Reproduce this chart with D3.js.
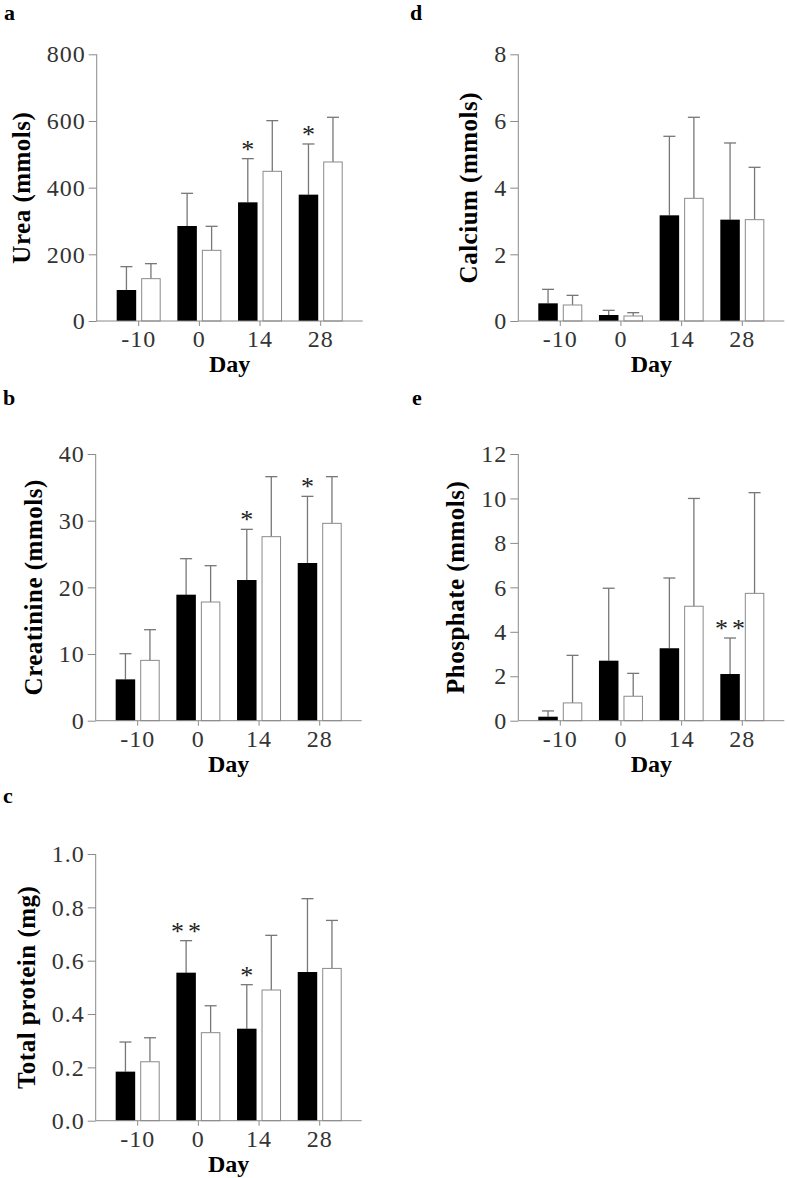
<!DOCTYPE html>
<html><head><meta charset="utf-8">
<script src="https://cdn.jsdelivr.net/npm/d3@7"></script>
<style>
html,body{margin:0;padding:0;background:#fff;}
svg{display:block;}
</style></head>
<body>
<svg id="chart" width="787" height="1178"></svg>
<script>
// ---- data ----
const days = ["-10", "0", "14", "28"];
const groups = ["black", "white"];

const ureaBlack = [93, 285, 356, 379];
const ureaBlackSD = [70, 98, 131, 152];
const ureaWhite = [127, 212, 449, 477];
const ureaWhiteSD = [45, 72, 152, 134];
const ureaStars = ["", "", "*", "*"];
const ureaTicks = [0, 200, 400, 600, 800];

const creatBlack = [6.2, 18.9, 21.1, 23.65];
const creatBlackSD = [3.85, 5.4, 7.6, 10.0];
const creatWhite = [9.05, 17.8, 27.6, 29.6];
const creatWhiteSD = [4.6, 5.45, 9.0, 7.0];
const creatStars = ["", "", "*", "*"];
const creatTicks = [0, 10, 20, 30, 40];

const protBlack = [0.184, 0.555, 0.345, 0.5575];
const protBlackSD = [0.111, 0.12, 0.165, 0.275];
const protWhite = [0.221, 0.33, 0.49, 0.571];
const protWhiteSD = [0.09, 0.101, 0.205, 0.18];
const protStars = ["", "**", "*", ""];
const protTicks = [0.0, 0.2, 0.4, 0.6, 0.8, 1.0];

const calcBlack = [0.53, 0.18, 3.17, 3.04];
const calcBlackSD = [0.42, 0.14, 2.37, 2.30];
const calcWhite = [0.48, 0.15, 3.68, 3.04];
const calcWhiteSD = [0.29, 0.10, 2.43, 1.57];
const calcStars = ["", "", "", ""];
const calcTicks = [0, 2, 4, 6, 8];

const phosBlack = [0.18, 2.7, 3.26, 2.1];
const phosBlackSD = [0.26, 3.26, 3.16, 1.62];
const phosWhite = [0.80, 1.1, 5.15, 5.73];
const phosWhiteSD = [2.14, 1.03, 4.85, 4.53];
const phosStars = ["", "", "", "**"];
const phosTicks = [0, 2, 4, 6, 8, 10, 12];

const panels = [
  {letter: "a", title: "Urea (mmols)", black: ureaBlack, blackSD: ureaBlackSD, white: ureaWhite, whiteSD: ureaWhiteSD, stars: ureaStars, ticks: ureaTicks, fmt: d3.format("d"), ox: 96.7, oy: 321, top: 54.3, lx: 4, ly: 20},
  {letter: "b", title: "Creatinine (mmols)", black: creatBlack, blackSD: creatBlackSD, white: creatWhite, whiteSD: creatWhiteSD, stars: creatStars, ticks: creatTicks, fmt: d3.format("d"), ox: 95.7, oy: 720.7, top: 454, lx: 3, ly: 405},
  {letter: "c", title: "Total protein (mg)", black: protBlack, blackSD: protBlackSD, white: protWhite, whiteSD: protWhiteSD, stars: protStars, ticks: protTicks, fmt: d3.format(".1f"), ox: 95.7, oy: 1120.7, top: 854, lx: 3, ly: 803},
  {letter: "d", title: "Calcium (mmols)", black: calcBlack, blackSD: calcBlackSD, white: calcWhite, whiteSD: calcWhiteSD, stars: calcStars, ticks: calcTicks, fmt: d3.format("d"), ox: 518.3, oy: 321, top: 54.3, lx: 410, ly: 20},
  {letter: "e", title: "Phosphate (mmols)", black: phosBlack, blackSD: phosBlackSD, white: phosWhite, whiteSD: phosWhiteSD, stars: phosStars, ticks: phosTicks, fmt: d3.format("d"), ox: 518.3, oy: 720.7, top: 454, lx: 412, ly: 405}
];

const svg = d3.select("#chart");
const FONT = "'Liberation Serif', 'Times New Roman', Times, serif";
const AXIS = "#8a8a8a";
const ERR = "#777";
const PLOT_W = 266;

panels.forEach(p => {
  const g = svg.append("g").attr("transform", `translate(${p.ox},${p.oy})`);
  const H = p.oy - p.top;
  const y = d3.scaleLinear().domain([p.ticks[0], p.ticks[p.ticks.length - 1]]).range([0, -H]);
  const x = d3.scaleBand().domain(days).range([0, PLOT_W]).paddingInner(0).paddingOuter(0.192);
  const xs = d3.scaleBand().domain(groups).range([-22, 22]).paddingInner(0.204).paddingOuter(0);

  // panel letter
  svg.append("text").attr("x", p.lx).attr("y", p.ly)
    .attr("font-family", FONT).attr("font-weight", "bold").attr("font-size", 22)
    .attr("fill", "#000").text(p.letter);

  const rows = days.map((d, i) => ({day: d, i}));
  groups.forEach(grp => {
    const vals = grp === "black" ? p.black : p.white;
    const sds = grp === "black" ? p.blackSD : p.whiteSD;
    const gg = g.append("g");
    rows.forEach(r => {
      const cx = x(r.day) + x.bandwidth() / 2 + xs(grp) + xs.bandwidth() / 2;
      const top = y(vals[r.i] + sds[r.i]);
      gg.append("line").attr("x1", cx).attr("x2", cx).attr("y1", y(vals[r.i])).attr("y2", top)
        .attr("stroke", ERR).attr("stroke-width", 1.3);
      gg.append("line").attr("x1", cx - 6).attr("x2", cx + 6).attr("y1", top).attr("y2", top)
        .attr("stroke", ERR).attr("stroke-width", 1.3);
    });
    gg.selectAll("rect").data(rows).join("rect")
      .attr("x", r => x(r.day) + x.bandwidth() / 2 + xs(grp) + (grp === "white" ? 0.5 : 0))
      .attr("y", r => y(vals[r.i]))
      .attr("width", xs.bandwidth() - (grp === "white" ? 1 : 0))
      .attr("height", r => -y(vals[r.i]))
      .attr("fill", grp === "black" ? "#000" : "#fff")
      .attr("stroke", grp === "black" ? "none" : AXIS)
      .attr("stroke-width", 1);
  });

  // stars
  rows.forEach(r => {
    if (!p.stars[r.i]) return;
    const cx = x(r.day) + x.bandwidth() / 2 + xs("black") + xs.bandwidth() / 2;
    const top = y(p.black[r.i] + p.blackSD[r.i]);
    const multi = p.stars[r.i].length > 1;
    g.append("text").attr("x", cx + (multi ? 2 : 0)).attr("y", top - 1)
      .attr("text-anchor", "middle").attr("font-family", FONT).attr("font-size", 26)
      .attr("letter-spacing", multi ? 4 : 0)
      .attr("fill", "#222").text(p.stars[r.i]);
  });

  // y axis
  const yAxis = g.append("g").call(d3.axisLeft(y).tickValues(p.ticks).tickFormat(p.fmt).tickSize(8).tickPadding(3));
  yAxis.select(".domain").attr("stroke", AXIS).attr("d", `M0,0V${-H}`);
  yAxis.selectAll(".tick line").attr("stroke", AXIS);
  yAxis.selectAll(".tick text").attr("font-family", FONT).attr("font-size", 24)
    .attr("letter-spacing", 1).attr("fill", "#333");

  // x axis
  const xAxis = g.append("g").call(d3.axisBottom(x).tickSize(5).tickPadding(8));
  xAxis.select(".domain").attr("stroke", AXIS).attr("d", `M0,0H${PLOT_W}`);
  xAxis.selectAll(".tick line").attr("stroke", AXIS);
  xAxis.selectAll(".tick text").attr("font-family", FONT).attr("font-size", 24)
    .attr("letter-spacing", 1).attr("fill", "#333").attr("y", 26).attr("dy", 0);

  // x title
  g.append("text").attr("x", PLOT_W / 2).attr("y", 51)
    .attr("text-anchor", "middle").attr("font-family", FONT).attr("font-weight", "bold")
    .attr("font-size", 24).attr("fill", "#000").text("Day");

  // y title placed relative to tick labels
  let minX = 0;
  yAxis.selectAll(".tick text").each(function () {
    const b = this.getBBox();
    minX = Math.min(minX, b.x);
  });
  g.append("text").attr("transform", `translate(${minX - 17},${-H / 2}) rotate(-90)`)
    .attr("text-anchor", "middle").attr("font-family", FONT).attr("font-weight", "bold")
    .attr("font-size", 25).attr("letter-spacing", 0.5).attr("fill", "#000").text(p.title);
});
</script>
</body></html>
